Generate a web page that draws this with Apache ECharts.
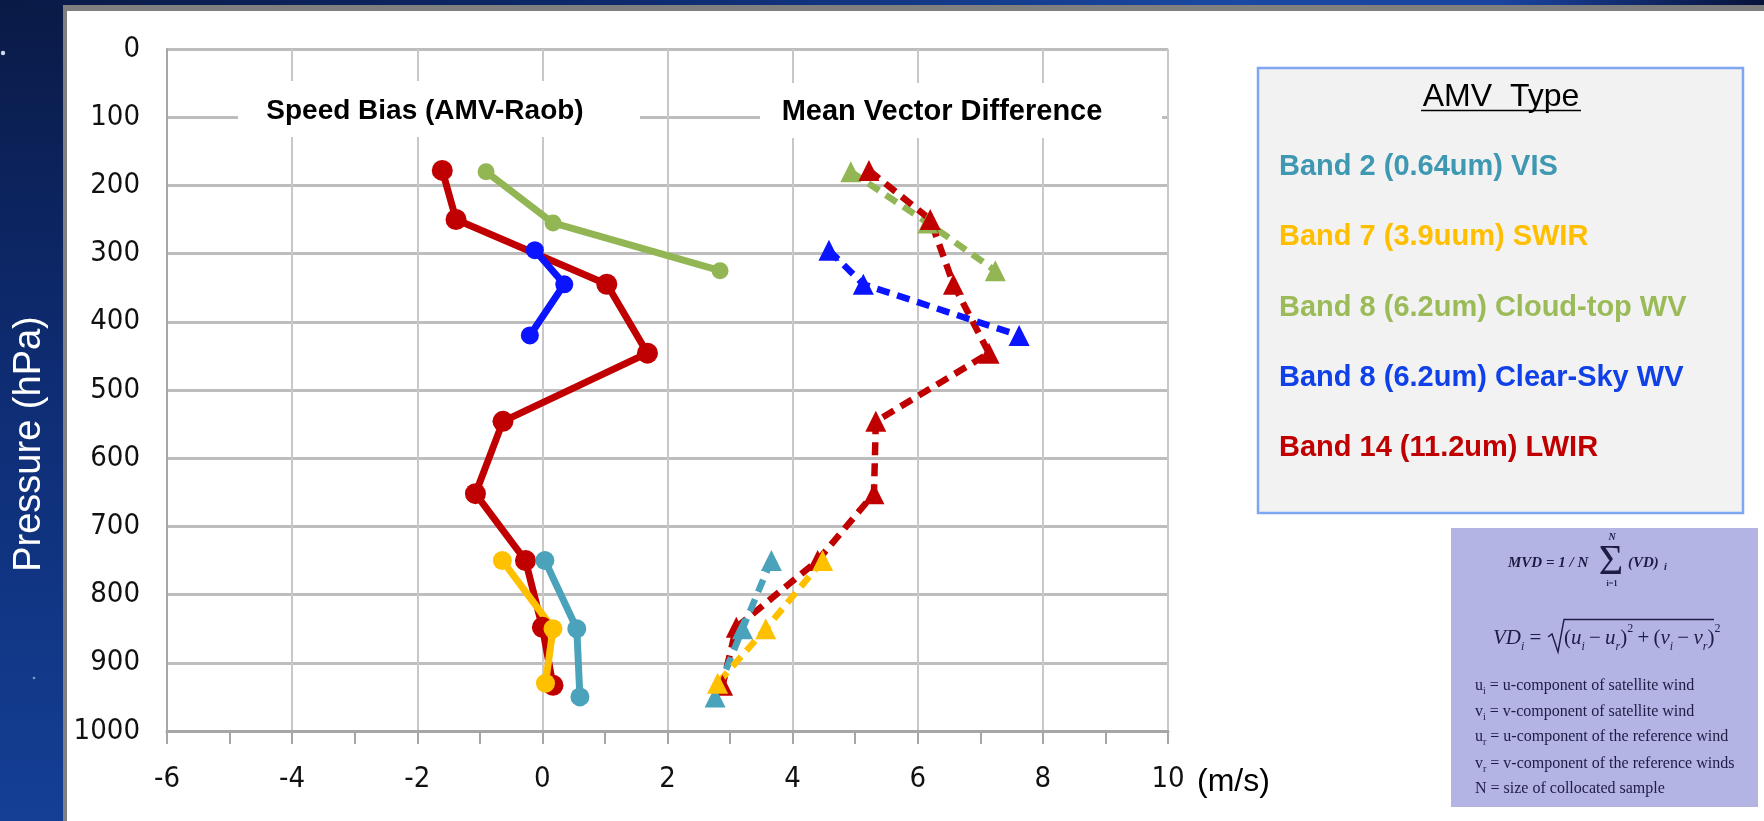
<!DOCTYPE html>
<html>
<head>
<meta charset="utf-8">
<script src="https://cdn.jsdelivr.net/npm/echarts@6/dist/echarts.min.js"></script>
<style>
  html, body { margin: 0; padding: 0; background: #ffffff; }
  #chart { width: 1764px; height: 821px; }
</style>
</head>
<body>
<div id="chart"></div>
<script>
// ---- Axis ranges (m/s horizontally, hPa vertically) ----
const speedMin = -6, speedMax = 10, speedStep = 2;
const pressMin = 0, pressMax = 1000, pressStep = 100;

// ---- AMV types ----
const bandNames = [
  'Band 2 (0.64um) VIS',
  'Band 7 (3.9uum) SWIR',
  'Band 8 (6.2um) Cloud-top WV',
  'Band 8 (6.2um) Clear-Sky WV',
  'Band 14 (11.2um) LWIR'
];

// Band 2 (0.64um) VIS
const pressB2 = [750, 850, 950];
const biasB2  = [0.04, 0.55, 0.60];
const mvdB2   = [3.66, 3.20, 2.76];

// Band 7 (3.9um) SWIR
const pressB7 = [750, 850, 930];
const biasB7  = [-0.64, 0.17, 0.05];
const mvdB7   = [4.48, 3.57, 2.80];

// Band 8 (6.2um) cloud-top WV
const pressB8c = [180, 255, 325];
const biasB8c  = [-0.90, 0.17, 2.84];
const mvdB8c   = [4.93, 6.16, 7.24];

// Band 8 (6.2um) clear-sky WV
const pressB8s = [295, 345, 420];
const biasB8s  = [-0.12, 0.35, -0.20];
const mvdB8s   = [4.58, 5.13, 7.62];

// Band 14 (11.2um) LWIR
const pressB14 = [178, 250, 345, 446, 546, 652, 750, 848, 933];
const biasB14  = [-1.60, -1.38, 1.03, 1.68, -0.63, -1.07, -0.27, 0.00, 0.17];
const mvdB14   = [5.22, 6.20, 6.57, 7.14, 5.33, 5.30, 4.40, 3.10, 2.88];

// ---- Styling ----
const colB2 = '#4aa3bb', colB7 = '#ffc000', colB8c = '#93b655', colB8s = '#0a14ff', colB14 = '#c00000';
const legendColors = ['#3f98b2', '#ffbf00', '#9bbb59', '#1040e8', '#c00000'];
const narrow = '"Liberation Sans Narrow", "DejaVu Sans Condensed", sans-serif';
const sans = '"Liberation Sans", Arial, sans-serif';
const serif = '"Liberation Serif", "Times New Roman", serif';
const ink = '#1c1c44';

function pairs(xs, ps) { return xs.map((x, i) => [x, ps[i]]); }

function biasSeries(name, xs, ps, color, size) {
  return {
    name: name + ' bias', type: 'line', data: pairs(xs, ps),
    symbol: 'circle', symbolSize: size,
    lineStyle: { color: color, width: 7 },
    itemStyle: { color: color },
    emphasis: { disabled: true }
  };
}
function mvdSeries(name, xs, ps, color) {
  return {
    name: name + ' MVD', type: 'line', data: pairs(xs, ps),
    symbol: 'triangle', symbolSize: 21,
    lineStyle: { color: color, width: 6.5, type: [13, 8] },
    itemStyle: { color: color },
    emphasis: { disabled: true }
  };
}

const series = [
  biasSeries(bandNames[2], biasB8c, pressB8c, colB8c, 17),
  mvdSeries(bandNames[2], mvdB8c, pressB8c, colB8c),
  biasSeries(bandNames[4], biasB14, pressB14, colB14, 21),
  mvdSeries(bandNames[4], mvdB14, pressB14, colB14),
  biasSeries(bandNames[3], biasB8s, pressB8s, colB8s, 18),
  mvdSeries(bandNames[3], mvdB8s, pressB8s, colB8s),
  biasSeries(bandNames[0], biasB2, pressB2, colB2, 19),
  mvdSeries(bandNames[0], mvdB2, pressB2, colB2),
  biasSeries(bandNames[1], biasB7, pressB7, colB7, 19),
  mvdSeries(bandNames[1], mvdB7, pressB7, colB7)
];

// ---- Decorations: slide frame, titles, legend panel, formula panel ----
const graphics = [
  // slide backdrop
  { type: 'rect', z: -20, shape: { x: 0, y: 0, width: 63, height: 821 },
    style: { fill: { type: 'linear', x: 0, y: 0, x2: 0, y2: 1,
      colorStops: [{ offset: 0, color: '#0a1a46' }, { offset: 0.45, color: '#0e2c72' }, { offset: 1, color: '#143f95' }] } } },
  { type: 'rect', z: -20, shape: { x: 0, y: 0, width: 1764, height: 6 },
    style: { fill: { type: 'linear', x: 0, y: 0, x2: 1, y2: 0,
      colorStops: [{ offset: 0, color: '#0a1a46' }, { offset: 0.35, color: '#0d2a6c' }, { offset: 0.7, color: '#1a48a2' }, { offset: 0.85, color: '#1a44a0' }, { offset: 1, color: '#07123a' }] } } },
  { type: 'circle', z: -19, shape: { cx: 3, cy: 53, r: 2.2 }, style: { fill: 'rgba(230,240,255,0.9)' } },
  { type: 'circle', z: -19, shape: { cx: 34, cy: 678, r: 1.3 }, style: { fill: 'rgba(200,220,255,0.6)' } },
  { type: 'rect', z: -18, shape: { x: 63, y: 5, width: 1701, height: 816 }, style: { fill: '#7f7f7f' } },
  { type: 'rect', z: -17, shape: { x: 67, y: 11, width: 1697, height: 810 }, style: { fill: '#ffffff' } },
  // vertical axis title
  { type: 'text', z: 5, x: 30, y: 444, rotation: Math.PI / 2,
    style: { text: 'Pressure (hPa)', font: '38px ' + sans, fill: '#ffffff',
      textAlign: 'center', textVerticalAlign: 'middle', align: 'center', verticalAlign: 'middle' } },
  // panel titles on white boxes
  { type: 'rect', z: 50, shape: { x: 238, y: 81, width: 402, height: 56 }, style: { fill: '#ffffff' } },
  { type: 'text', z: 51, x: 425, y: 111,
    style: { text: 'Speed Bias (AMV-Raob)', font: 'bold 28px ' + sans, fill: '#000000',
      textAlign: 'center', textVerticalAlign: 'middle', align: 'center', verticalAlign: 'middle' } },
  { type: 'rect', z: 50, shape: { x: 760, y: 83, width: 402, height: 55 }, style: { fill: '#ffffff' } },
  { type: 'text', z: 51, x: 942, y: 112,
    style: { text: 'Mean Vector Difference', font: 'bold 29px ' + sans, fill: '#000000',
      textAlign: 'center', textVerticalAlign: 'middle', align: 'center', verticalAlign: 'middle' } },
  // unit of the horizontal axis
  { type: 'text', z: 51, x: 1197, y: 782,
    style: { text: '(m/s)', font: '32px ' + sans, fill: '#000000',
      textAlign: 'left', textVerticalAlign: 'middle', align: 'left', verticalAlign: 'middle' } },
  // legend panel
  { type: 'rect', z: 40, shape: { x: 1258, y: 68, width: 485, height: 445 },
    style: { fill: '#f2f2f2', stroke: '#7ea6f2', lineWidth: 2.5 } },
  { type: 'text', z: 41, x: 1501, y: 97,
    style: { text: 'AMV  Type', font: '32px ' + sans, fill: '#000000',
      textAlign: 'center', textVerticalAlign: 'middle', align: 'center', verticalAlign: 'middle' } },
  { type: 'line', z: 41, shape: { x1: 1421, y1: 110.5, x2: 1581, y2: 110.5 }, style: { stroke: '#000000', lineWidth: 1.6 } },
  // formula panel
  { type: 'rect', z: 40, shape: { x: 1451, y: 528, width: 307, height: 279 }, style: { fill: '#b4b4e4' } }
];

// legend rows
const legendRowY = [167, 237, 308, 378, 448];
bandNames.forEach((n, i) => {
  graphics.push({ type: 'text', z: 41, x: 1279, y: legendRowY[i],
    style: { text: n, font: 'bold 29px ' + sans, fill: legendColors[i],
      textAlign: 'left', textVerticalAlign: 'middle', align: 'left', verticalAlign: 'middle' } });
});

// formula: MVD = 1/N sum (VD)_i
function ftext(x, y, text, font, align) {
  return { type: 'text', z: 42, x: x, y: y,
    style: { text: text, font: font, fill: ink, textAlign: align || 'left', textVerticalAlign: 'middle',
      align: align || 'left', verticalAlign: 'middle' } };
}
graphics.push(ftext(1508, 563, 'MVD = 1 / N', 'italic bold 15px ' + serif));
graphics.push(ftext(1612, 537, 'N', 'italic bold 10px ' + serif, 'center'));
graphics.push(ftext(1611, 563, '\u03A3', '42px ' + serif, 'center'));
graphics.push(ftext(1612, 584, 'i=1', 'bold 8px ' + serif, 'center'));
graphics.push(ftext(1628, 563, '(VD)', 'italic bold 15px ' + serif));
graphics.push(ftext(1664, 567, 'i', 'italic bold 10px ' + serif));

// formula: VD_i = sqrt((u_i - u_r)^2 + (v_i - v_r)^2)
const mainTok = { fontSize: 21, fontFamily: serif, fontStyle: 'italic', fill: ink, lineHeight: 30 };
const subTok = { fontSize: 12, fontFamily: serif, fontStyle: 'italic', fill: ink, lineHeight: 14, verticalAlign: 'bottom' };
const supTok = { fontSize: 12, fontFamily: serif, fill: ink, lineHeight: 14, verticalAlign: 'top' };
const uprTok = { fontSize: 21, fontFamily: serif, fill: ink, lineHeight: 30 };
graphics.push({ type: 'text', z: 42, x: 1493, y: 638,
  style: { text: '{m|VD}{s|i}{o| =}', rich: { m: mainTok, s: subTok, o: uprTok },
    textAlign: 'left', textVerticalAlign: 'middle', align: 'left', verticalAlign: 'middle' } });
graphics.push({ type: 'polyline', z: 42,
  shape: { points: [[1548, 637], [1552, 634], [1558, 652], [1564, 619.5], [1714, 619.5]] },
  style: { stroke: ink, lineWidth: 1.4, fill: null } });
graphics.push({ type: 'text', z: 42, x: 1564, y: 638,
  style: { text: '{o|(}{m|u}{s|i}{o|\u2009\u2212\u2009}{m|u}{s|r}{o|)}{p|2}{o|\u2009+\u2009(}{m|v}{s|i}{o|\u2009\u2212\u2009}{m|v}{s|r}{o|)}{p|2}',
    rich: { m: mainTok, s: subTok, p: supTok, o: uprTok },
    textAlign: 'left', textVerticalAlign: 'middle', align: 'left', verticalAlign: 'middle' } });

// definitions
const defLines = [
  ['u', 'i', ' = u-component of satellite wind'],
  ['v', 'i', ' = v-component of satellite wind'],
  ['u', 'r', ' = u-component of the reference wind'],
  ['v', 'r', ' = v-component of the reference winds'],
  ['N', '', ' = size of collocated sample']
];
const defY = [686, 712, 737, 764, 789];
defLines.forEach((d, i) => {
  graphics.push({ type: 'text', z: 42, x: 1475, y: defY[i],
    style: { text: '{b|' + d[0] + '}' + (d[1] ? '{s|' + d[1] + '}' : '') + '{b|' + d[2] + '}',
      rich: {
        b: { fontSize: 16, fontFamily: serif, fill: ink, lineHeight: 20 },
        s: { fontSize: 10, fontFamily: serif, fill: ink, lineHeight: 10, verticalAlign: 'bottom' }
      },
      textAlign: 'left', textVerticalAlign: 'middle', align: 'left', verticalAlign: 'middle' } });
});

const chart = echarts.init(document.getElementById('chart'), null, { renderer: 'canvas' });
chart.setOption({
  animation: false,
  backgroundColor: '#ffffff',
  grid: { left: 167, right: 596, top: 49, bottom: 90, containLabel: false },
  xAxis: {
    type: 'value', min: speedMin, max: speedMax, interval: speedStep,
    axisLine: { show: true, onZero: false, lineStyle: { color: '#a6a6a6', width: 3 } },
    axisTick: { show: true, length: 13, lineStyle: { color: '#a6a6a6', width: 2 } },
    minorTick: { show: true, splitNumber: 2, length: 13, lineStyle: { color: '#a6a6a6', width: 2 } },
    axisLabel: { margin: 34, fontFamily: narrow, fontSize: 29, color: '#111111', formatter: v => String(v) },
    splitLine: { show: true, lineStyle: { color: '#c8c8c8', width: 2 } }
  },
  yAxis: {
    type: 'value', inverse: true, min: pressMin, max: pressMax, interval: pressStep,
    axisLine: { show: true, onZero: false, lineStyle: { color: '#a6a6a6', width: 2 } },
    axisTick: { show: false },
    axisLabel: { margin: 27, fontFamily: narrow, fontSize: 29, color: '#111111', formatter: v => String(v) },
    splitLine: { show: true, lineStyle: { color: '#bdbdbd', width: 3 } }
  },
  graphic: { elements: graphics },
  series: series
});
</script>
</body>
</html>
